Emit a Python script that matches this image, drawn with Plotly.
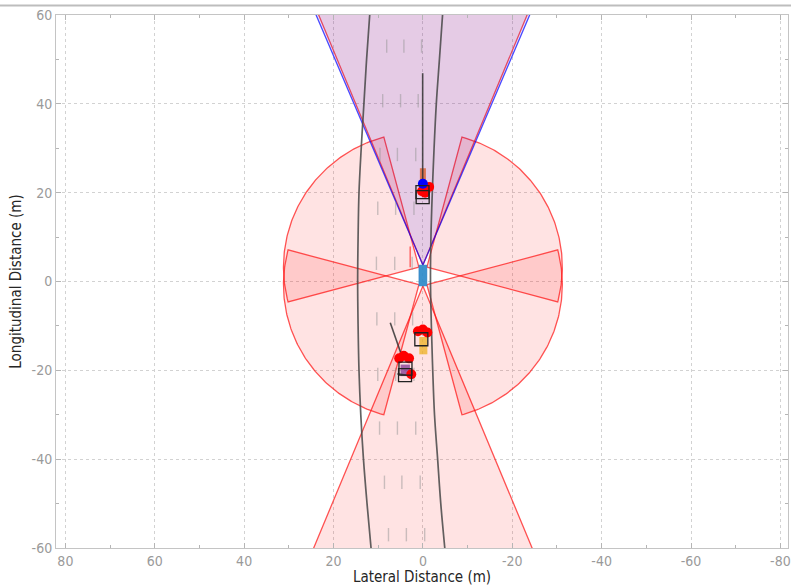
import numpy as np
import plotly.graph_objects as go

# ---------------- data ----------------
# radar coverage: lateral (m, + = left), longitudinal (m), yaw (deg, + = left), fov (deg), range (m)
radar_lat = [0.0, 0.0, 0.9, -0.9, 0.9, -0.9]
radar_long = [3.7, -1.0, 3.25, 3.25, -0.73, -0.73]
radar_yaw = [0, 180, 60, -60, 120, -120]
radar_fov = [45, 45, 90, 90, 90, 90]
radar_range = [174, 100, 30.3, 30.3, 30.3, 30.3]

# camera coverage
camera_lat = [0.0]
camera_long = [3.7]
camera_yaw = [0]
camera_fov = [46]
camera_range = [150]

# road boundaries
road_long = [-60, -50, -40, -30, -20, -10, 0, 10, 20, 30, 40, 50, 60]
road_left_lat = [11.6, 12.5, 13.3, 13.9, 14.3, 14.5, 14.6, 14.5, 14.3, 13.8, 13.2, 12.6, 11.9]
road_right_lat = [-4.9, -4.0, -3.3, -2.6, -2.2, -1.9, -1.7, -1.8, -2.1, -2.5, -3.0, -3.7, -4.4]

# lane marking dashes (centres)
dash_long = [53.0, 40.7, 28.6, 16.5, 4.1, -8.4, -20.9, -33.0, -45.2, -57.0]
lane1_lat = [8.1, 9.0, 9.6, 10.1, 10.4, 10.3, 10.1, 9.7, 8.6, 7.7]
lane2_lat = [4.25, 5.0, 5.7, 6.1, 6.3, 6.3, 6.1, 5.7, 4.7, 3.7]
lane3_lat = [0.3, 1.05, 1.6, 2.0, 2.4, 2.3, 2.0, 1.6, 0.6, -0.4]
dash_len = 3.0

# ego vehicle
ego_lat = [0.9, -0.9]
ego_long = [-1.0, 3.7]

# actor outlines (centre lat, centre long, length, width)
outline_lat = [0.0, -0.1, 3.95]
outline_long = [23.75, -14.45, -20.0]
outline_len = [3.5, 3.9, 2.6]
outline_wid = [1.35, 1.8, 2.1]
outline_col = ["rgba(217,83,25,0.72)", "rgba(237,177,32,0.75)", "rgba(126,47,142,0.72)"]

# radar detections
det_lat = [-1.4, 0.2, -0.5, 1.1, 0.0, -1.0, 5.3, 4.3, 3.1, 2.6]
det_long = [21.3, 20.3, 20.0, -11.2, -10.8, -11.5, -17.3, -16.7, -17.3, -20.9]

# vision detections
vis_lat = [0.0]
vis_long = [22.0]

# tracks
trk_lat = [0.1, 0.05, 0.35, 3.9, 4.0]
trk_long = [20.1, 19.0, -13.0, -19.6, -21.1]

# track history / heading lines
hist_lat = [0.05, 0.05, None, 7.3, 4.8, None, 5.7, 3.5]
hist_long = [46.9, 22.5, None, -9.3, -16.5, None, -20.8, -21.1]

# short red segment near ego
seg_lat = [2.85, 2.85]
seg_long = [3.2, 7.9]

# axis ticks
x_tick_vals = [80, 60, 40, 20, 0, -20, -40, -60, -80]
x_tick_text = ["80", "60", "40", "20", "0", "-20", "-40", "-60", "-80"]
y_tick_vals = [60, 40, 20, 0, -20, -40, -60]
y_tick_text = ["60", "40", "20", "0", "-20", "-40", "-60"]
x_minor = [70, 50, 30, 10, -10, -30, -50, -70]
y_minor = [50, 30, 10, -10, -30, -50]

FONT = "Liberation Sans Narrow, Arial Narrow, DejaVu Sans Condensed, sans-serif"


def sector(lat0, long0, yaw, fov, rng, n=120):
    th = np.radians(np.linspace(yaw - fov / 2.0, yaw + fov / 2.0, n))
    xs = np.concatenate([[lat0], lat0 + rng * np.sin(th), [lat0]])
    ys = np.concatenate([[long0], long0 + rng * np.cos(th), [long0]])
    return xs, ys


fig = go.Figure()

# radar coverage
for i in range(len(radar_lat)):
    xs, ys = sector(radar_lat[i], radar_long[i], radar_yaw[i], radar_fov[i], radar_range[i])
    fig.add_trace(go.Scatter(x=xs, y=ys, mode="lines", fill="toself",
                             fillcolor="rgba(255,0,0,0.11)",
                             line=dict(color="rgba(255,20,20,0.72)", width=1.3),
                             hoverinfo="skip"))

# camera coverage
for i in range(len(camera_lat)):
    xs, ys = sector(camera_lat[i], camera_long[i], camera_yaw[i], camera_fov[i], camera_range[i])
    fig.add_trace(go.Scatter(x=xs, y=ys, mode="lines", fill="toself",
                             fillcolor="rgba(0,0,255,0.10)",
                             line=dict(color="rgba(0,0,255,0.7)", width=1.3),
                             hoverinfo="skip"))

# red segment
fig.add_trace(go.Scatter(x=seg_lat, y=seg_long, mode="lines",
                         line=dict(color="rgba(255,20,20,0.75)", width=1.2), hoverinfo="skip"))

# road boundaries
for rl in (road_left_lat, road_right_lat):
    fig.add_trace(go.Scatter(x=rl, y=road_long, mode="lines", line_shape="spline",
                             line=dict(color="rgba(70,70,70,0.85)", width=1.7),
                             hoverinfo="skip"))

# lane markings
for lane in (lane1_lat, lane2_lat, lane3_lat):
    xs, ys = [], []
    for lx, ly in zip(lane, dash_long):
        xs += [lx, lx, None]
        ys += [ly + dash_len / 2, ly - dash_len / 2, None]
    fig.add_trace(go.Scatter(x=xs, y=ys, mode="lines",
                             line=dict(color="rgba(150,150,150,0.5)", width=1.4),
                             hoverinfo="skip"))

# ego vehicle
fig.add_trace(go.Scatter(x=[ego_lat[0], ego_lat[1], ego_lat[1], ego_lat[0], ego_lat[0]],
                         y=[ego_long[0], ego_long[0], ego_long[1], ego_long[1], ego_long[0]],
                         mode="lines", fill="toself", fillcolor="rgba(40,135,200,0.9)",
                         line=dict(color="rgba(40,120,190,0.9)", width=0.5), hoverinfo="skip"))

# actor outlines
for i in range(len(outline_lat)):
    hw, hl = outline_wid[i] / 2.0, outline_len[i] / 2.0
    cx, cy = outline_lat[i], outline_long[i]
    fig.add_trace(go.Scatter(x=[cx + hw, cx - hw, cx - hw, cx + hw, cx + hw],
                             y=[cy - hl, cy - hl, cy + hl, cy + hl, cy - hl],
                             mode="lines", fill="toself", fillcolor=outline_col[i],
                             line=dict(width=0), hoverinfo="skip"))

# track history lines
fig.add_trace(go.Scatter(x=hist_lat, y=hist_long, mode="lines",
                         line=dict(color="rgba(50,50,50,0.85)", width=1.6), hoverinfo="skip"))

# radar detections
fig.add_trace(go.Scatter(x=det_lat, y=det_long, mode="markers",
                         marker=dict(color="red", size=10, line=dict(width=0)), hoverinfo="skip"))

# vision detections
fig.add_trace(go.Scatter(x=vis_lat, y=vis_long, mode="markers",
                         marker=dict(color="blue", size=10, line=dict(width=0)), hoverinfo="skip"))

# tracks
fig.add_trace(go.Scatter(x=trk_lat, y=trk_long, mode="markers",
                         marker=dict(symbol="square-open", color="#222222", size=13,
                                     line=dict(width=1.3, color="#222222")),
                         hoverinfo="skip"))

W, H = 791, 586
ML, MR, MT, MB = 56, 3, 15, 38
PW, PH = W - ML - MR, H - MT - MB

fig.update_layout(
    width=W, height=H,
    margin=dict(l=ML, r=MR, t=MT, b=MB, autoexpand=False),
    paper_bgcolor="white", plot_bgcolor="white", showlegend=False,
    font=dict(family=FONT, size=14, color="#9a9a9a"),
    shapes=[dict(type="line", xref="paper", yref="paper",
                 x0=-ML / PW, x1=(W - ML) / PW,
                 y0=1 + (MT - 5.5) / PH, y1=1 + (MT - 5.5) / PH,
                 line=dict(color="#bdbdbd", width=2))],
)

axis_common = dict(
    ticks="inside", ticklen=5, tickcolor="#b5b5b5", tickwidth=1,
    showline=True, linecolor="#c4c4c4", linewidth=1, mirror="ticks",
    showgrid=True, gridcolor="#d2d2d2", griddash="dot", gridwidth=1,
    zeroline=False, tickfont=dict(family=FONT, size=14, color="#9a9a9a"),
    automargin=False, ticklabeloverflow="allow",
)

fig.update_xaxes(range=[82.1, -81.7], tickmode="array", tickvals=x_tick_vals, ticktext=x_tick_text,
                 minor=dict(tickvals=x_minor, ticks="inside", ticklen=3, tickcolor="#b5b5b5", showgrid=False),
                 title=dict(text="Lateral Distance (m)", standoff=6,
                            font=dict(family=FONT, size=15, color="#262626")),
                 **axis_common)
fig.update_yaxes(range=[-60, 60], tickmode="array", tickvals=y_tick_vals, ticktext=y_tick_text,
                 minor=dict(tickvals=y_minor, ticks="inside", ticklen=3, tickcolor="#b5b5b5", showgrid=False),
                 title=dict(text="Longitudinal Distance (m)", standoff=6,
                            font=dict(family=FONT, size=15, color="#262626")),
                 **axis_common)

# the figure fills the whole window: drop the page's default body margin
fig.write_html("out.html", config={"displayModeBar": False},
               post_script="document.body.style.margin='0';document.body.style.overflow='hidden';")
